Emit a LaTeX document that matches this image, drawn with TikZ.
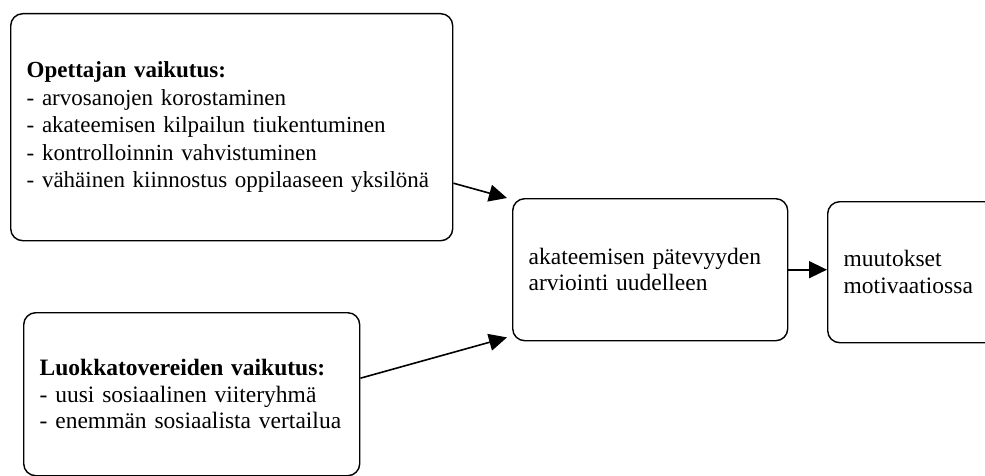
\documentclass[tikz,border=0pt]{standalone}
\usepackage{fontspec}
\setmainfont{Liberation Serif}
\usetikzlibrary{arrows.meta, positioning}

\begin{document}
\begin{tikzpicture}[x=1pt, y=-1pt,
    box/.style={draw, line width=1.4pt, rounded corners=12pt, anchor=north west, align=left, inner xsep=16pt, inner ysep=0pt, font=\fontsize{23.5}{27.5}\selectfont},
    arr/.style={-{Triangle[length=18pt, width=17pt]}, line width=1.6pt}]
    \useasboundingbox (0,0) rectangle (985,476);
    \clip (0,0) rectangle (985,476);
    % the two influences
    \node[box, text width=410pt, minimum height=227pt, font=\fontsize{23}{27.5}\selectfont] (teacher) at (10,13) {\textbf{Opettajan vaikutus:}\\- arvosanojen korostaminen\\- akateemisen kilpailun tiukentuminen\\- kontrolloinnin vahvistuminen\\\mbox{- vähäinen kiinnostus oppilaaseen yksilönä}};
    \node[box, text width=304pt, minimum height=163pt, font=\fontsize{23.5}{26.5}\selectfont] (peers) at (23,312) {\textbf{Luokkatovereiden vaikutus:}\\- uusi sosiaalinen viiteryhmä\\- enemmän sosiaalista vertailua};
    % re-evaluation and result
    \node[box, text width=243pt, minimum height=142pt, font=\fontsize{23.5}{26}\selectfont] (reeval) at (512,198) {akateemisen pätevyyden\\arviointi uudelleen};
    \node[box, text width=171pt, minimum height=141pt, font=\fontsize{23.5}{27}\selectfont] (motiv) at (827,201) {muutokset\\motivaatiossa};
    \draw[arr] ([yshift=-56pt]teacher.east) -- ([xshift=-5pt]reeval.north west);
    \draw[arr] ([yshift=16pt]peers.east) -- ([xshift=-5pt, yshift=4pt]reeval.south west);
    \draw[arr] (reeval.east) -- (reeval.east -| motiv.west);
\end{tikzpicture}
\end{document}
